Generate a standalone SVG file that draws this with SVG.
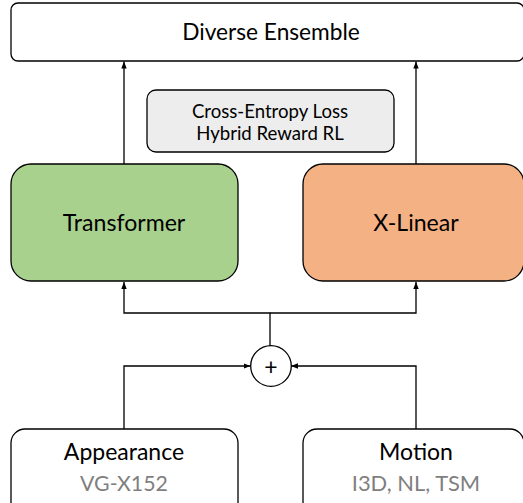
<svg xmlns="http://www.w3.org/2000/svg" width="523" height="503" viewBox="0 0 523 503">
<defs>
<style>
.box{stroke:#000;stroke-width:1.3}
.t{font-family:Lato,"Liberation Sans",sans-serif;text-anchor:middle;fill:#000}
.g{fill:#7f7f7f}
.c{fill:none;stroke:#000;stroke-width:1.3}
</style>
<marker id="ah" markerUnits="userSpaceOnUse" markerWidth="8" markerHeight="8" viewBox="0 0 8 8" refX="7" refY="4" orient="auto">
<path d="M0,1.3 L7,4 L0,6.7 Z" fill="#000"/>
</marker>
</defs>
<rect width="523" height="503" fill="#fff"/>
<g id="connectors">
<path class="c" d="M124,164 V61.5" marker-end="url(#ah)"/>
<path class="c" d="M416,164 V61.5" marker-end="url(#ah)"/>
<path class="c" d="M270,346 V313 H124 V282" marker-end="url(#ah)"/>
<path class="c" d="M270,313 H416 V282" marker-end="url(#ah)"/>
<path class="c" d="M124,429 V366 H250.5" marker-end="url(#ah)"/>
<path class="c" d="M416,429 V366 H291" marker-end="url(#ah)"/>
</g>
<g id="ensemble">
<rect class="box" x="11" y="3" width="513" height="58" rx="7" fill="#fff"/>
<text class="t" x="271" y="40" font-size="22.7">Diverse Ensemble</text>
</g>
<g id="loss">
<rect class="box" x="147" y="90" width="247" height="62" rx="9" fill="#ededed"/>
<text class="t" x="270" y="118" font-size="18.6">Cross-Entropy Loss</text>
<text class="t" x="270" y="140" font-size="18.6">Hybrid Reward RL</text>
</g>
<g id="transformer">
<rect class="box" x="11" y="164" width="227" height="117" rx="20" fill="#a9d18e"/>
<text class="t" x="124" y="231" font-size="23.1">Transformer</text>
</g>
<g id="xlinear">
<rect class="box" x="303" y="164" width="221" height="117" rx="20" fill="#f4b183"/>
<text class="t" x="416" y="231" font-size="23.1">X-Linear</text>
</g>
<g id="plus">
<circle class="box" cx="271" cy="366" r="20.3" fill="#fff"/>
<text class="t" x="271" y="374.5" font-size="23">+</text>
</g>
<g id="appearance">
<rect class="box" x="11" y="429" width="227" height="90" rx="14" fill="#fff"/>
<text class="t" x="124" y="460" font-size="23">Appearance</text>
<text class="t g" x="124" y="491" font-size="21.3">VG-X152</text>
</g>
<g id="motion">
<rect class="box" x="303" y="429" width="221" height="90" rx="14" fill="#fff"/>
<text class="t" x="416" y="460" font-size="23">Motion</text>
<text class="t g" x="416" y="491" font-size="21.9">I3D, NL, TSM</text>
</g>
</svg>
